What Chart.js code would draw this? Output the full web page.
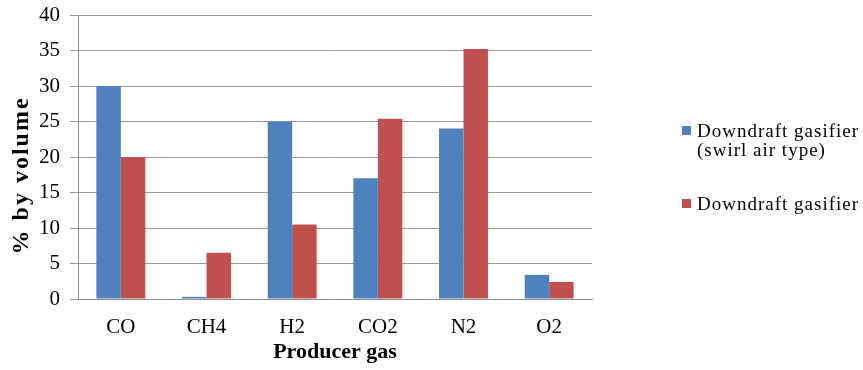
<!DOCTYPE html>
<html>
<head>
<meta charset="utf-8">
<script src="https://cdn.jsdelivr.net/npm/chart.js@4"></script>
<style>
  html, body { margin: 0; padding: 0; background: #fff; }
  #wrap { position: relative; width: 863px; height: 370px; }
  #chart { position: absolute; left: 0; top: 0; }
  .legend-item { position: absolute; left: 682px; font-family: "Liberation Serif", "Times New Roman", serif;
    font-size: 19px; line-height: 19px; letter-spacing: 1px; color: #000; }
  .legend-box { position: absolute; left: 0; width: 9px; height: 9px; }
  .legend-text { position: absolute; left: 15px; white-space: nowrap; }
</style>
</head>
<body>
<div id="wrap">
  <canvas id="chart" width="863" height="370"></canvas>
  <div id="legend"></div>
</div>
<script>
// Producer gas composition, % by volume
const categories = ['CO', 'CH4', 'H2', 'CO2', 'N2', 'O2'];
const swirlAirValues = [30, 0.3, 25, 17, 24, 3.4];
const downdraftValues = [20, 6.5, 10.5, 25.4, 35.2, 2.4];
const seriesNames = [['Downdraft gasifier', '(swirl air type)'], ['Downdraft gasifier']];
const yTicks = [0, 5, 10, 15, 20, 25, 30, 35, 40];
const xTitle = 'Producer gas';
const yTitle = '% by volume';

const colors = ['#4F81BD', '#C0504D'];
const serif = '"Liberation Serif", "Times New Roman", serif';

// Vertical axis title, drawn slightly below the plot's middle with widened spacing
const yTitlePlugin = {
  id: 'yTitle',
  afterDraw(chart) {
    const c = chart.ctx;
    const area = chart.chartArea;
    c.save();
    c.translate(22, area.top + (area.bottom - area.top) * 0.565);
    c.rotate(-Math.PI / 2);
    c.font = 'bold 24px ' + serif;
    c.fillStyle = '#000';
    c.textAlign = 'center';
    c.textBaseline = 'middle';
    if ('letterSpacing' in c) c.letterSpacing = '2px';
    c.fillText(yTitle, 0, 0);
    c.restore();
  }
};

const ctx = document.getElementById('chart').getContext('2d');
new Chart(ctx, {
  type: 'bar',
  data: {
    labels: categories,
    datasets: [
      { label: seriesNames[0].join(' '), data: swirlAirValues, backgroundColor: colors[0] },
      { label: seriesNames[1].join(' '), data: downdraftValues, backgroundColor: colors[1] }
    ]
  },
  plugins: [yTitlePlugin],
  options: {
    responsive: false,
    animation: false,
    events: [],
    layout: { padding: { left: 0, top: 15, right: 271, bottom: 0 } },
    datasets: { bar: { categoryPercentage: 0.571, barPercentage: 1.0, borderWidth: 0 } },
    plugins: { legend: { display: false }, tooltip: { enabled: false } },
    scales: {
      x: {
        offset: true,
        grid: { display: false, drawTicks: false },
        border: { display: true, color: '#8f8f8f', width: 1 },
        ticks: { color: '#000', font: { family: serif, size: 21 }, padding: 16 },
        title: { display: true, text: xTitle, color: '#000',
                 font: { family: serif, size: 22, weight: 'bold' }, padding: { top: 0, bottom: 4 } },
        afterFit: (scale) => { scale.height = 71; scale.paddingLeft = 0; scale.paddingRight = 0; }
      },
      y: {
        min: 0, max: 40,
        afterBuildTicks: (scale) => { scale.ticks = yTicks.map(v => ({ value: v })); },
        grid: { color: '#9a9a9a', lineWidth: 1, drawTicks: true, tickLength: 8 },
        border: { display: true, color: '#8f8f8f', width: 1 },
        ticks: { color: '#000', font: { family: serif, size: 21 }, padding: 10 },
        title: { display: false },
        afterFit: (scale) => { scale.width = 78; scale.paddingTop = 0; scale.paddingBottom = 0; }
      }
    }
  }
});

// Legend on the right, with the wrapped first entry
const legend = document.getElementById('legend');
const legendTops = [121, 194];
seriesNames.forEach((lines, i) => {
  const item = document.createElement('div');
  item.className = 'legend-item';
  item.style.top = legendTops[i] + 'px';
  const box = document.createElement('div');
  box.className = 'legend-box';
  box.style.background = colors[i];
  box.style.top = '5px';
  const text = document.createElement('div');
  text.className = 'legend-text';
  text.innerHTML = lines.join('<br>');
  item.appendChild(box);
  item.appendChild(text);
  legend.appendChild(item);
});
</script>
</body>
</html>
